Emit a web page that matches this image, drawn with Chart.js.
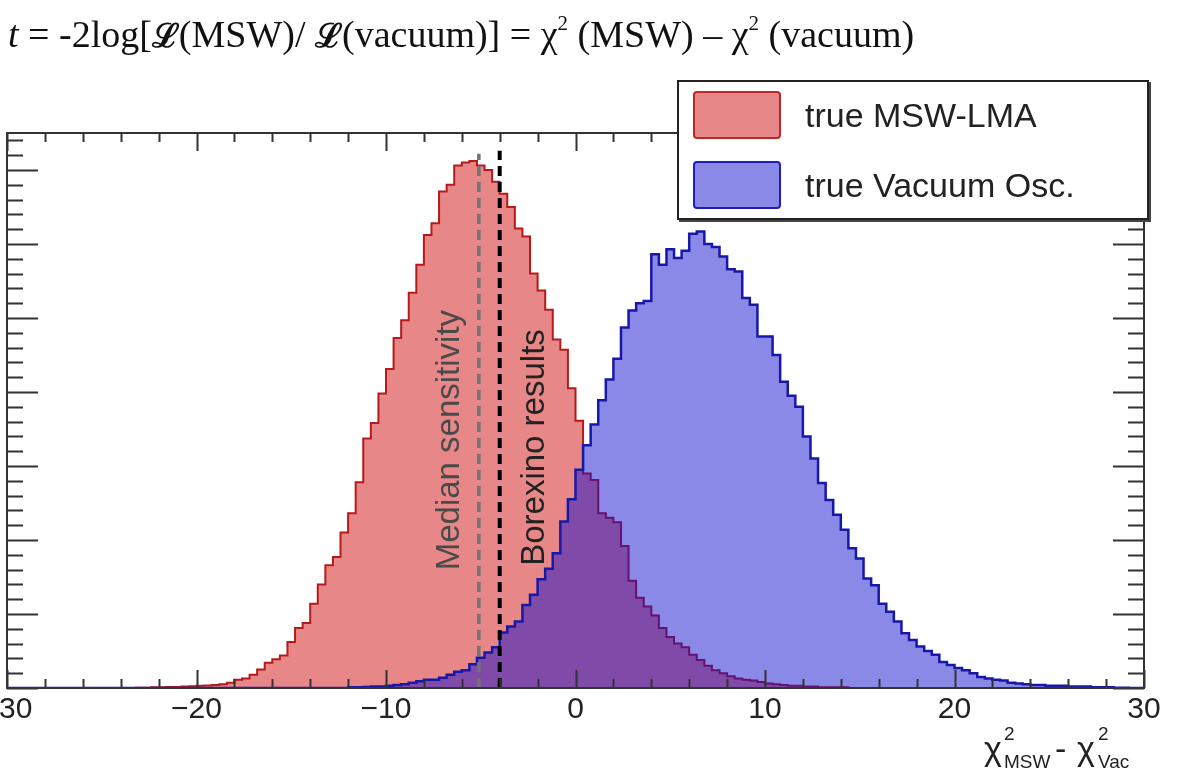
<!DOCTYPE html>
<html lang="en">
<head>
<meta charset="UTF-8">
<title>MSW vs vacuum test statistic</title>
<script src="https://cdn.jsdelivr.net/npm/chart.js@4.4.1/dist/chart.umd.min.js"></script>
<style>
  body { margin: 0; background: #fff; }
  #wrap { position: relative; width: 1190px; height: 779px; overflow: hidden; }
  #chart { position: absolute; left: 0; top: 0; }
  #title { position: absolute; left: 8px; top: 12px; font-family: "Liberation Serif", "DejaVu Serif", serif; font-size: 38px; color: #111; white-space: nowrap; }
  #title .L { font-weight: bold; font-family: "DejaVu Serif", serif; font-size: 33px; }
  #title sup { font-size: 21px; vertical-align: 17px; line-height: 0; }
  #legend { position: absolute; left: 677px; top: 80px; width: 468px; height: 136px; background: #fff; border: 2px solid #222; box-shadow: 2px 2px 0 #444; font-family: "Liberation Sans", Arial, sans-serif; font-size: 34px; color: #222; }
  .entry { position: absolute; left: 14px; height: 50px; display: flex; align-items: center; }
  .swatch { width: 88px; height: 48px; border-radius: 4px; box-sizing: border-box; margin-right: 24px; }
  .xt { position: absolute; font-family: "Liberation Sans", Arial, sans-serif; color: #222; white-space: nowrap; line-height: 1; }
  .xt.big { font-size: 34px; }
  .xt.small { font-size: 19px; }
</style>
</head>
<body>
<div id="wrap">
  <canvas id="chart" width="1190" height="779"></canvas>
  <div id="title"><i>t</i> = -2log[<span class="L">ℒ</span>(MSW)/ <span class="L">ℒ</span>(vacuum)] = χ<sup>2</sup> (MSW) – χ<sup>2</sup> (vacuum)</div>
  <div id="legend">
    <div class="entry" style="top:8px"><div class="swatch" style="background:rgb(232,135,135);border:2px solid rgb(190,40,40)"></div>true MSW-LMA</div>
    <div class="entry" style="top:78px"><div class="swatch" style="background:rgb(138,138,230);border:2px solid rgb(30,30,190)"></div>true Vacuum Osc.</div>
  </div>
  <span class="xt big" style="left:984px;top:731px">χ</span>
  <span class="xt small" style="left:1004px;top:724px">2</span>
  <span class="xt small" style="left:1004px;top:752px">MSW</span>
  <span class="xt big" style="left:1055px;top:731px">-</span>
  <span class="xt big" style="left:1077px;top:731px">χ</span>
  <span class="xt small" style="left:1098px;top:724px">2</span>
  <span class="xt small" style="left:1098px;top:752px">Vac</span>
</div>

<script>
// histogram binning: 150 bins of 0.4 between -30 and 30
const xMin = -30;
const xMax = 30;
const binWidth = 0.4;

// true MSW-LMA toys, counts from bin 17 (-23.2) onward
const mswStartBin = 17;
const mswCounts = [
  0.5, 0.5, 1, 1, 1.5, 1.5, 2, 2.5, 3, 3.5, 4, 5, 7,
  11, 13, 18, 25, 34, 39, 44, 62, 81, 88, 114, 140, 166, 177,
  210, 236, 278, 337, 358, 398, 431, 473, 497, 534, 572, 612, 628,
  671, 680, 706, 710, 712, 706, 700, 684, 668, 650, 621, 610, 560,
  537, 511, 471, 457, 405, 361, 290, 281, 236, 230, 224, 192, 145,
  122, 110, 98, 81, 69, 60, 55, 45, 38, 30, 24, 20, 16, 13, 11,
  10, 8, 6, 5, 4, 3, 3, 2, 2, 1, 1, 1, 1
];

// true vacuum oscillation toys, counts from bin 45 (-12.0) onward
const vacStartBin = 45;
const vacCounts = [
  1, 1, 1.5, 2, 2, 3, 4, 5, 7, 9, 11, 11, 14, 18, 22, 24, 32, 41,
  48, 55, 75, 83, 90, 112, 126, 147, 161, 182, 225, 255, 295, 328,
  356, 389, 417, 445, 487, 510, 520, 523, 586, 572, 593, 581, 591,
  614, 617, 600, 596, 583, 566, 563, 527, 518, 475, 475, 450, 414,
  395, 380, 340, 310, 277, 254, 234, 214, 189, 175, 148, 139, 114,
  103, 90, 74, 65, 56, 50, 45, 35, 31, 27, 24, 20, 15, 13, 11, 10,
  7, 6, 5, 4, 4, 3, 3, 3, 2, 2, 2, 1, 1, 1, 0.5, 0.5
];

// vertical markers
const medianSensitivity = -5.1;
const borexinoResult = -4.0;

const xTickStep = 2;
const yMax = 750;
const yTickStep = 20;

function histPoints(startBin, counts) {
  const nBins = Math.round((xMax - xMin) / binWidth);
  const pts = [];
  for (let i = 0; i < nBins; i++) {
    const j = i - startBin;
    const v = (j >= 0 && j < counts.length) ? counts[j] : 0;
    pts.push({ x: +(xMin + i * binWidth).toFixed(3), y: v });
  }
  pts.push({ x: xMax, y: pts[pts.length - 1].y });
  return pts;
}

function fmtTick(v) {
  if (v % 10 !== 0) return '';
  return v < 0 ? '\u2212' + Math.abs(v) : String(v);
}

// frame, inward ticks and marker captions, ROOT style
const rootFrame = {
  id: 'rootFrame',
  afterDatasetsDraw(chart) {
    const { ctx, chartArea: a, scales } = chart;
    const xs = scales.x, ys = scales.y;
    ctx.save();

    // captions next to the marker lines
    ctx.font = '33px "Liberation Sans", Arial, sans-serif';
    ctx.textAlign = 'center';
    ctx.textBaseline = 'middle';
    const cap = (text, x, y, color) => {
      ctx.save();
      ctx.translate(x, y);
      ctx.rotate(-Math.PI / 2);
      ctx.fillStyle = color;
      ctx.fillText(text, 0, 0);
      ctx.restore();
    };
    cap('Median sensitivity', xs.getPixelForValue(medianSensitivity) - 29, ys.getPixelForValue(335), '#4a4a4a');
    cap('Borexino results', xs.getPixelForValue(borexinoResult) + 35, ys.getPixelForValue(325), '#222');

    ctx.strokeStyle = '#333';
    ctx.lineWidth = 2;
    ctx.beginPath();
    for (let v = xMin; v <= xMax; v += xTickStep) {
      const px = Math.round(xs.getPixelForValue(v)) + 0.5;
      const len = v % 10 === 0 ? 18 : 9;
      ctx.moveTo(px, a.bottom); ctx.lineTo(px, a.bottom - len);
      ctx.moveTo(px, a.top); ctx.lineTo(px, a.top + len);
    }
    for (let v = 0; v <= yMax; v += yTickStep) {
      const py = Math.round(ys.getPixelForValue(v)) + 0.5;
      const len = v % 100 === 0 ? 31 : 16;
      ctx.moveTo(a.left, py); ctx.lineTo(a.left + len, py);
      ctx.moveTo(a.right, py); ctx.lineTo(a.right - len, py);
    }
    ctx.stroke();
    ctx.strokeRect(a.left, a.top, a.right - a.left, a.bottom - a.top);
    ctx.restore();
  }
};

new Chart(document.getElementById('chart'), {
  type: 'line',
  data: {
    datasets: [
      {
        label: 'true MSW-LMA',
        data: histPoints(mswStartBin, mswCounts),
        stepped: 'before',
        fill: 'origin',
        backgroundColor: 'rgb(232,135,135)',
        borderColor: 'rgb(182,26,26)',
        borderWidth: 2,
        pointRadius: 0,
        order: 4
      },
      {
        label: 'true Vacuum Osc.',
        data: histPoints(vacStartBin, vacCounts),
        stepped: 'before',
        fill: 'origin',
        backgroundColor: 'rgba(12,8,204,0.48)',
        borderColor: 'rgb(24,24,168)',
        borderWidth: 2.5,
        pointRadius: 0,
        order: 3
      },
      {
        label: 'Median sensitivity',
        data: [{ x: medianSensitivity, y: 0 }, { x: medianSensitivity, y: 722 }],
        borderColor: 'rgb(115,115,115)',
        borderWidth: 3.5,
        borderDash: [10, 6],
        fill: false,
        pointRadius: 0,
        order: 2
      },
      {
        label: 'Borexino results',
        data: [{ x: borexinoResult, y: 0 }, { x: borexinoResult, y: 726 }],
        borderColor: '#000',
        borderWidth: 4,
        borderDash: [10, 6],
        fill: false,
        pointRadius: 0,
        order: 1
      }
    ]
  },
  options: {
    responsive: false,
    devicePixelRatio: 1,
    animation: false,
    layout: { padding: { left: 7, right: 46, top: 133, bottom: 47 } },
    plugins: { legend: { display: false }, tooltip: { enabled: false } },
    scales: {
      x: {
        type: 'linear',
        min: xMin,
        max: xMax,
        grid: { display: false, drawTicks: false },
        border: { display: false },
        ticks: {
          stepSize: xTickStep,
          autoSkip: false,
          maxRotation: 0,
          padding: 4,
          color: '#222',
          font: { family: '"Liberation Sans", Arial, sans-serif', size: 30 },
          callback: v => fmtTick(v)
        },
        afterFit(s) { s.height = 44; s.paddingLeft = 0; s.paddingRight = 0; }
      },
      y: {
        min: 0,
        max: yMax,
        grid: { display: false, drawTicks: false },
        border: { display: false },
        ticks: { display: false, stepSize: yTickStep },
        afterFit(s) { s.width = 0; }
      }
    }
  },
  plugins: [rootFrame]
});
</script>
</body>
</html>
